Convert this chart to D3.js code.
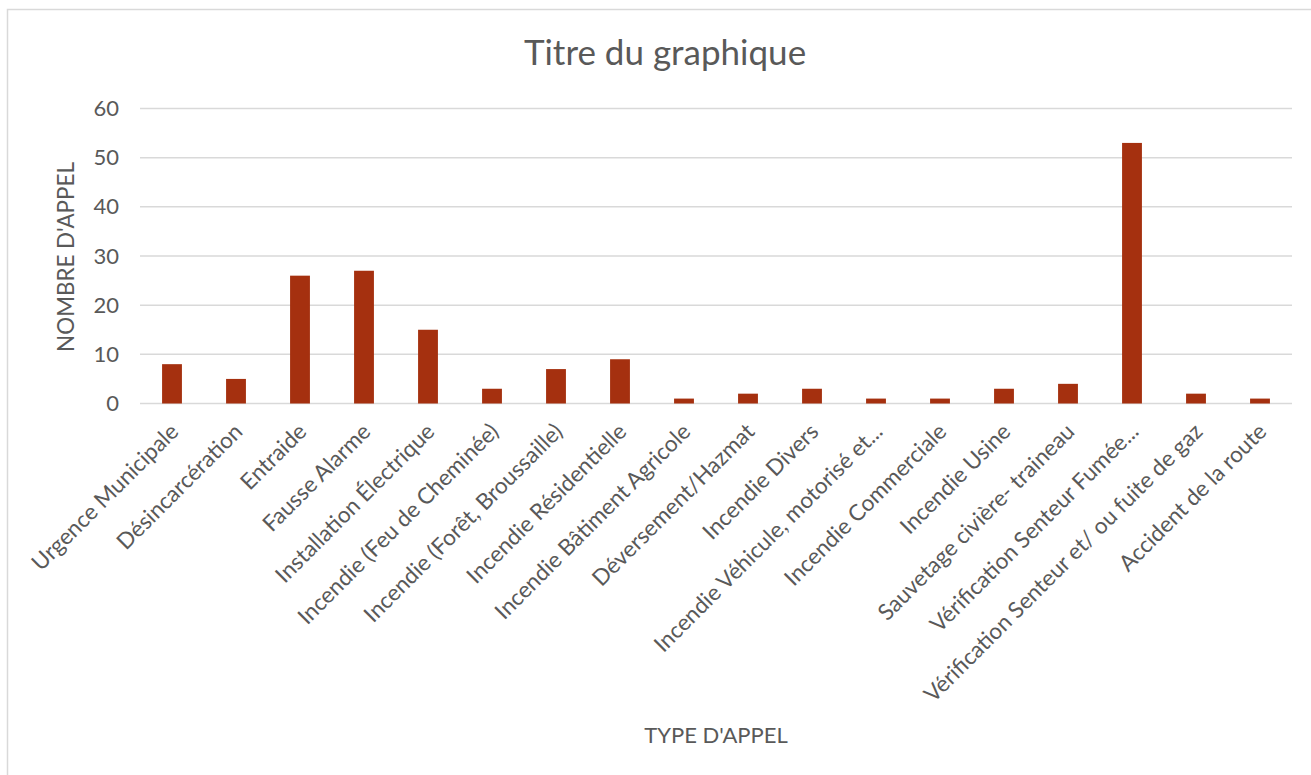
<!DOCTYPE html>
<html><head><meta charset="utf-8">
<script src="https://cdn.jsdelivr.net/npm/d3@7"></script>
<style>body{margin:0;background:#fff;overflow:hidden}svg{display:block}</style>
</head><body><svg id="c" width="1311" height="775"></svg>
<script>
const categories = ["Urgence Municipale","Désincarcération","Entraide","Fausse Alarme","Installation Électrique","Incendie (Feu de Cheminée)","Incendie (Forêt, Broussaille)","Incendie Résidentielle","Incendie Bâtiment Agricole","Déversement/Hazmat","Incendie Divers","Incendie Véhicule, motorisé et...","Incendie Commerciale","Incendie Usine","Sauvetage civière- traineau","Vérification Senteur Fumée...","Vérification Senteur et/ ou fuite de gaz","Accident de la route"];
const values = [8,5,26,27,15,3,7,9,1,2,3,1,1,3,4,53,2,1];
const yTicks = [0,10,20,30,40,50,60];
const chartTitle = "Titre du graphique";
const yTitle = "NOMBRE D'APPEL";
const xTitle = "TYPE D'APPEL";

const svg = d3.select("#c");
const font = "Lato, sans-serif";
const grey = "#595959";
// chart frame
svg.append("path").attr("d","M7.5,775 V9.5 H1311").attr("fill","none").attr("stroke","#d9d9d9").attr("stroke-width",1.5);

const x = d3.scaleBand().domain(categories).range([140,1292]).paddingInner(0.69).paddingOuter(0.345);
const y = d3.scaleLinear().domain([0,60]).range([403.5,108.5]);

// gridlines
svg.append("g").selectAll("line").data(yTicks).join("line")
  .attr("x1",140).attr("x2",1292).attr("y1",d=>y(d)).attr("y2",d=>y(d))
  .attr("stroke","#d9d9d9").attr("stroke-width",1.5);

// y axis labels
const yAxis = d3.axisLeft(y).tickValues(yTicks).tickSize(0).tickPadding(0);
const gy = svg.append("g").attr("transform","translate(119,0)").call(yAxis);
gy.select(".domain").remove();
gy.selectAll("text").attr("font-family",font).attr("font-size",22).attr("fill",grey);

// bars
svg.append("g").selectAll("rect").data(values).join("rect")
  .attr("x",(d,i)=>x(categories[i])).attr("width",x.bandwidth())
  .attr("y",d=>y(d)).attr("height",d=>y(0)-y(d)).attr("fill","#a5300f");

// x labels
const xAxis = d3.axisBottom(x).tickSize(0).tickPadding(0);
const gx = svg.append("g").attr("transform","translate(0,404)").call(xAxis);
gx.select(".domain").remove();
gx.selectAll("text").attr("font-family",font).attr("font-size",22.5).attr("fill",grey)
  .attr("text-anchor","end").attr("dy",0).attr("y",0)
  .attr("transform","translate(8,29) rotate(-45)");

// titles
svg.append("text").attr("x",665).attr("y",65).attr("text-anchor","middle")
  .attr("font-family",font).attr("font-size",35).attr("fill",grey).text(chartTitle);
svg.append("text").attr("transform","translate(74,257) rotate(-90)").attr("text-anchor","middle")
  .attr("font-family",font).attr("font-size",22.4).attr("fill",grey).text(yTitle);
svg.append("text").attr("x",716).attr("y",743).attr("text-anchor","middle")
  .attr("font-family",font).attr("font-size",22).attr("fill",grey).text(xTitle);
</script></body></html>
